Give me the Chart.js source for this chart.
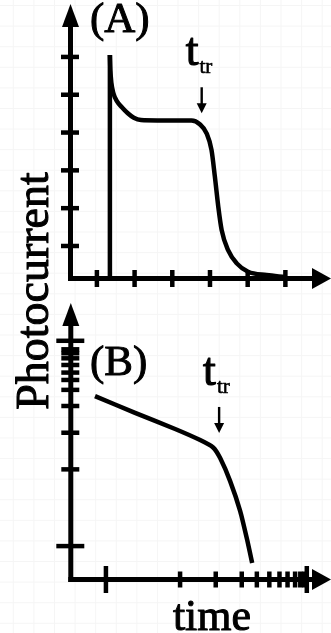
<!DOCTYPE html>
<html>
<head>
<meta charset="utf-8">
<script src="https://cdn.jsdelivr.net/npm/chart.js@4.4.1/dist/chart.umd.min.js"></script>
<style>
    html, body { margin: 0; padding: 0; }
    body {
        width: 331px; height: 633px; overflow: hidden; position: relative;
        background-color: #fff;
        background-image:
            linear-gradient(to right, #f5f5f5 1px, transparent 1px),
            linear-gradient(to bottom, #f5f5f5 1px, transparent 1px);
        background-size: 20.6px 20.6px;
        background-position: 12.8px 5px;
    }
    canvas { position: absolute; left: 0; top: 0; }
</style>
</head>
<body>
<canvas id="painel-a" width="331" height="633"></canvas>
<canvas id="painel-b" width="331" height="633"></canvas>
<script>
// Painel A: pulso de fotocorrente, patamar e queda no tempo de trânsito
const ticksTempoA = [1, 2, 3, 4, 5, 6];
const ticksCorrenteA = [1, 2, 3, 4, 5, 6];
const pulsoTempoA = [1.345, 1.345];
const pulsoCorrenteA = [0.14, 6.05];
const tempoA = [1.345, 1.358, 1.385, 1.438, 1.53, 1.663, 1.82, 1.98, 2.17, 2.6, 3.1, 3.51, 3.73, 3.91, 4.04, 4.13, 4.22, 4.31, 4.48, 4.71, 5.01, 5.50, 5.99];
const correnteA = [6.05, 5.65, 5.31, 5.04, 4.83, 4.67, 4.51, 4.39, 4.33, 4.32, 4.32, 4.32, 4.22, 3.98, 3.54, 2.83, 2.04, 1.42, 0.89, 0.54, 0.32, 0.23, 0.18];
const transitoA = { tempo: 3.78, corrente: 4.51 };

// Painel B: a mesma queda em eixos log-log (marcas desenhadas à mão)
const ticksTempoB = [1.35, 4.2, 5.57, 6.57, 7.15, 7.63, 8.02, 8.33, 8.62, 8.82, 8.97, 9.07];
const ticksCorrenteB = [1.45, 4.78, 6.37, 7.53, 8.23, 8.66, 8.98, 9.31, 9.6, 9.82, 9.99, 10.36];
const maioresTempoB = [1.35, 9.07];
const maioresCorrenteB = [1.45, 10.36];
const tempoB = [0.93, 2.47, 4.01, 4.97, 5.47, 5.74, 6.12, 6.51, 6.78, 6.97];
const correnteB = [7.96, 7.23, 6.53, 6.05, 5.73, 5.27, 4.28, 2.97, 1.71, 0.72];
const transitoB = { tempo: 5.70, corrente: 6.36 };

const rotulos = ['(A)', '(B)'];
const tituloY = 'Photocurrent';
const tituloX = 'time';
const simboloTransito = 't';
const indiceTransito = 'tr';

const LARGURA = 331, ALTURA = 633;
const FONTE = '"Liberation Serif", "Times New Roman", serif';

function pontos(xs, ys) {
    return xs.map((x, i) => ({ x: x, y: ys[i] }));
}

function linha(ctx, x1, y1, x2, y2) {
    ctx.beginPath();
    ctx.moveTo(x1, y1);
    ctx.lineTo(x2, y2);
    ctx.stroke();
}

// texto com contorno fino para ficar com o traço mais cheio
function texto(ctx, s, x, y, contorno) {
    ctx.fillText(s, x, y);
    ctx.lineWidth = contorno;
    ctx.strokeText(s, x, y);
}

// Eixos com setas, marcas cruzando o eixo e os rótulos de texto
const eixosPlugin = {
    id: 'eixos',
    beforeDatasetsDraw(chart, args, o) {
        const { ctx, chartArea: a, scales: { x, y } } = chart;
        ctx.save();
        ctx.strokeStyle = '#000';
        ctx.fillStyle = '#000';
        ctx.lineWidth = 5;

        linha(ctx, a.left, a.bottom + 2.5, a.left, a.top + 18);
        linha(ctx, a.left - 2.5, a.bottom, a.right - 16, a.bottom);

        ctx.beginPath();
        ctx.moveTo(a.left, a.top);
        ctx.lineTo(a.left - 8.5, a.top + 23);
        ctx.lineTo(a.left + 8.5, a.top + 23);
        ctx.closePath();
        ctx.fill();

        ctx.beginPath();
        ctx.moveTo(a.right, a.bottom);
        ctx.lineTo(a.right - 19, a.bottom - 10.5);
        ctx.lineTo(a.right - 19, a.bottom + 10.5);
        ctx.closePath();
        ctx.fill();

        ctx.lineWidth = 4.5;
        o.ticksX.forEach(v => {
            const px = x.getPixelForValue(v);
            const m = o.maioresX.includes(v) ? o.tamMaior : o.tamX;
            linha(ctx, px, a.bottom - m, px, a.bottom + m);
        });
        o.ticksY.forEach(v => {
            const py = y.getPixelForValue(v);
            const m = o.maioresY.includes(v) ? o.tamMaior : o.tamY;
            linha(ctx, a.left - m - 1, py, a.left + m, py);
        });
        ctx.restore();
    },
    afterDraw(chart, args, o) {
        const { ctx, scales: { x, y } } = chart;
        ctx.save();
        ctx.fillStyle = '#000';
        ctx.strokeStyle = '#000';
        ctx.textBaseline = 'alphabetic';
        ctx.lineJoin = 'round';

        // rótulo do painel
        ctx.font = '43px ' + FONTE;
        ctx.textAlign = 'left';
        texto(ctx, o.rotulo, o.rotuloPos[0], o.rotuloPos[1], 1);

        // t_tr com seta apontando para o joelho da curva
        const ax = x.getPixelForValue(o.transito.tempo);
        const ay = y.getPixelForValue(o.transito.corrente);
        ctx.font = '46px ' + FONTE;
        const tx = ax - 16, ty = ay - 48;
        texto(ctx, simboloTransito, tx, ty, 1.2);
        const wt = ctx.measureText(simboloTransito).width;
        ctx.font = '21px ' + FONTE;
        texto(ctx, indiceTransito, tx + wt + 1, ty + 8, 0.6);

        ctx.lineWidth = 2.4;
        linha(ctx, ax, ay - 26, ax, ay - 6);
        ctx.beginPath();
        ctx.moveTo(ax, ay);
        ctx.lineTo(ax - 5, ay - 10);
        ctx.lineTo(ax + 5, ay - 10);
        ctx.closePath();
        ctx.fill();

        if (o.titulos) {
            ctx.font = '44px ' + FONTE;
            ctx.textAlign = 'center';
            texto(ctx, tituloX, 212, 630, 1);
            ctx.translate(48, 291);
            ctx.rotate(-Math.PI / 2);
            ctx.font = '46px ' + FONTE;
            texto(ctx, tituloY, 0, 0, 1);
        }
        ctx.restore();
    }
};

function criaPainel(id, area, limites, datasets, eixos) {
    return new Chart(document.getElementById(id), {
        type: 'line',
        data: { datasets: datasets },
        options: {
            responsive: false,
            animation: false,
            events: [],
            layout: {
                padding: {
                    left: area.left,
                    top: area.top,
                    right: LARGURA - area.right,
                    bottom: ALTURA - area.bottom
                }
            },
            scales: {
                x: { type: 'linear', min: limites.x[0], max: limites.x[1], display: false },
                y: { type: 'linear', min: limites.y[0], max: limites.y[1], display: false }
            },
            elements: { point: { radius: 0 } },
            plugins: {
                legend: { display: false },
                tooltip: { enabled: false },
                eixos: eixos
            }
        },
        plugins: [eixosPlugin]
    });
}

const estiloCurva = {
    borderColor: '#000',
    borderWidth: 4.5,
    fill: false,
    clip: false,
    pointRadius: 0,
    cubicInterpolationMode: 'monotone'
};

criaPainel('painel-a',
    { left: 70.5, top: 4, right: 331, bottom: 278.5 },
    { x: [0.3, 7.21], y: [0.14, 7.4] },
    [
        Object.assign({ data: pontos(pulsoTempoA, pulsoCorrenteA) }, estiloCurva, { cubicInterpolationMode: 'default', tension: 0 }),
        Object.assign({ data: pontos(tempoA, correnteA) }, estiloCurva)
    ],
    {
        ticksX: ticksTempoA, ticksY: ticksCorrenteA, maioresX: [], maioresY: [],
        tamX: 8.5, tamY: 8.5, tamMaior: 8.5,
        rotulo: rotulos[0], rotuloPos: [90, 32],
        transito: transitoA, titulos: false
    }
);

criaPainel('painel-b',
    { left: 70.8, top: 303, right: 331, bottom: 579.5 },
    { x: [0, 10], y: [0, 12] },
    [
        Object.assign({ data: pontos(tempoB, correnteB) }, estiloCurva, { cubicInterpolationMode: 'default', tension: 0.2 })
    ],
    {
        ticksX: ticksTempoB, ticksY: ticksCorrenteB, maioresX: maioresTempoB, maioresY: maioresCorrenteB,
        tamX: 8, tamY: 8.5, tamMaior: 13.5,
        rotulo: rotulos[1], rotuloPos: [90, 375],
        transito: transitoB, titulos: true
    }
);
</script>
</body>
</html>
